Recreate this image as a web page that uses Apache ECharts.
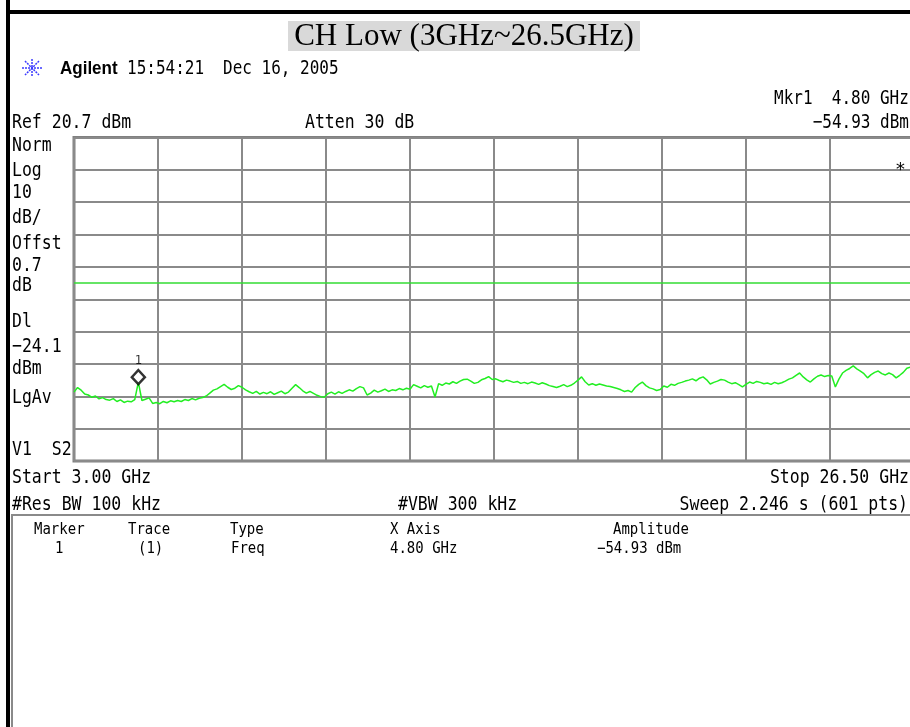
<!DOCTYPE html>
<html><head><meta charset="utf-8">
<script src="https://cdn.jsdelivr.net/npm/echarts@6/dist/echarts.min.js"></script>
<style>html,body{margin:0;padding:0;background:#fff}#c{width:910px;height:727px}</style>
</head><body><div id="c"></div>
<script>
// ---- instrument settings ----
const refLevelDbm = 20.7;
const bottomLevelDbm = -79.3;   // ref - 10 div * 10 dB
const startGHz = 3.0;
const stopGHz = 26.5;
const displayLineDbm = -24.1;
const markerPoint = [4.80, -54.93];

// ---- trace (frequency in GHz, level in dBm) ----
const freqGHz = [
3.0,3.1,3.2,3.3,3.4,3.5,3.6,3.7,3.8,3.9,
4.0,4.1,4.2,4.3,4.4,4.5,4.6,4.7,4.8,4.9,
5.0,5.1,5.2,5.3,5.4,5.5,5.6,5.7,5.8,5.9,
6.0,6.1,6.2,6.3,6.4,6.5,6.6,6.7,6.8,6.9,
7.0,7.1,7.2,7.3,7.4,7.5,7.6,7.7,7.8,7.9,
8.0,8.1,8.2,8.3,8.4,8.5,8.6,8.7,8.8,8.9,
9.0,9.1,9.2,9.3,9.4,9.5,9.6,9.7,9.8,9.9,
10.0,10.1,10.2,10.3,10.4,10.5,10.6,10.7,10.8,10.9,
11.0,11.1,11.2,11.3,11.4,11.5,11.6,11.7,11.8,11.9,
12.0,12.1,12.2,12.3,12.4,12.5,12.6,12.7,12.8,12.9,
13.0,13.1,13.2,13.3,13.4,13.5,13.6,13.7,13.8,13.9,
14.0,14.1,14.2,14.3,14.4,14.5,14.6,14.7,14.8,14.9,
15.0,15.1,15.2,15.3,15.4,15.5,15.6,15.7,15.8,15.9,
16.0,16.1,16.2,16.3,16.4,16.5,16.6,16.7,16.8,16.9,
17.0,17.1,17.2,17.3,17.4,17.5,17.6,17.7,17.8,17.9,
18.0,18.1,18.2,18.3,18.4,18.5,18.6,18.7,18.8,18.9,
19.0,19.1,19.2,19.3,19.4,19.5,19.6,19.7,19.8,19.9,
20.0,20.1,20.2,20.3,20.4,20.5,20.6,20.7,20.8,20.9,
21.0,21.1,21.2,21.3,21.4,21.5,21.6,21.7,21.8,21.9,
22.0,22.1,22.2,22.3,22.4,22.5,22.6,22.7,22.8,22.9,
23.0,23.1,23.2,23.3,23.4,23.5,23.6,23.7,23.8,23.9,
24.0,24.1,24.2,24.3,24.4,24.5,24.6,24.7,24.8,24.9,
25.0,25.1,25.2,25.3,25.4,25.5,25.6,25.7,25.8,25.9,
26.0,26.1,26.2,26.3,26.4,26.5
];
const levelDbm = [
-58.0,-56.6,-57.4,-58.6,-58.9,-59.6,-59.2,-60.1,-59.7,-60.3,
-60.5,-60.0,-60.9,-60.4,-61.2,-60.8,-61.0,-60.3,-54.9,-60.6,
-60.2,-59.8,-61.5,-61.2,-61.6,-60.9,-61.3,-60.7,-61.0,-60.6,
-60.9,-60.3,-60.6,-60.0,-60.4,-59.9,-59.7,-59.2,-58.3,-57.4,
-57.0,-56.3,-55.6,-56.5,-57.2,-56.8,-56.0,-56.5,-57.3,-57.9,
-58.4,-57.8,-58.6,-58.1,-58.5,-57.9,-58.7,-58.2,-57.7,-58.5,
-58.0,-56.8,-55.7,-56.6,-57.6,-58.3,-57.8,-58.4,-59.0,-59.4,
-59.6,-58.5,-58.0,-58.6,-57.9,-58.4,-57.8,-57.3,-57.7,-56.9,
-56.3,-56.7,-58.9,-58.3,-57.4,-58.0,-57.6,-57.1,-57.8,-57.3,
-57.5,-56.9,-57.3,-56.8,-57.1,-55.7,-56.2,-56.7,-56.0,-56.5,
-56.1,-59.5,-55.4,-55.9,-55.2,-55.5,-54.8,-55.3,-54.6,-54.1,
-54.0,-54.6,-55.3,-55.0,-54.2,-53.8,-53.2,-54.1,-53.9,-54.4,
-54.8,-54.3,-54.6,-55.0,-54.7,-55.3,-55.0,-55.4,-54.9,-55.2,
-55.6,-55.1,-55.5,-56.0,-56.3,-56.6,-56.2,-55.7,-56.3,-55.9,
-55.2,-54.3,-53.3,-54.8,-55.8,-55.4,-55.9,-55.5,-55.8,-56.1,
-56.3,-56.6,-56.9,-57.3,-57.8,-57.5,-58.0,-56.6,-55.6,-54.9,
-56.0,-56.7,-57.0,-57.5,-57.2,-56.1,-56.5,-55.6,-55.9,-55.3,
-55.0,-54.6,-54.3,-53.9,-54.5,-53.7,-53.3,-54.2,-55.5,-55.0,
-54.6,-54.1,-54.3,-54.9,-55.4,-55.1,-55.7,-56.4,-55.6,-54.9,
-55.3,-54.7,-55.0,-55.4,-55.2,-55.6,-55.0,-55.4,-55.1,-54.6,
-54.0,-53.6,-52.8,-52.1,-53.3,-54.2,-54.9,-53.9,-53.1,-52.7,
-53.2,-52.9,-53.0,-56.4,-54.0,-52.1,-51.3,-50.7,-49.9,-50.8,
-51.5,-52.3,-53.6,-52.6,-51.9,-51.5,-52.3,-52.7,-52.1,-52.6,
-53.6,-52.8,-51.9,-50.6,-50.3,-49.9
];

// ---- screen annotation texts ----
const leftLabels = [
  ['Norm',146],['Log',171],['10',193],['dB/',218],['Offst',244],['0.7',266],
  ['dB',286],['Dl',322],['\u221224.1',347],['dBm',369],['LgAv',398],['V1  S2',450]
];
const tableHeaders = [['Marker',34],['Trace',128],['Type',230],['X Axis',390],['Amplitude',613]];
const tableValues = [['1',55],['(1)',138],['Freq',231],['4.80 GHz',390],['\u221254.93 dBm',597]];

const chart = echarts.init(document.getElementById('c'), null, {renderer:'canvas'});
const MONO = '"DejaVu Sans Mono", "Liberation Mono", monospace';

function t(x, y, text, o) {
  o = o || {};
  return {
    type:'text', x:x, y:y, scaleY:o.sy || 1.2, z:10,
    style:{ x:0, y:0, text:text, fill:o.color || '#000',
      font:(o.weight||'normal') + ' ' + (o.size||16) + 'px ' + (o.family||MONO),
      textAlign:o.align||'left', textVerticalAlign:'middle' }
  };
}

const graphics = [
  {type:'rect', shape:{x:6,y:0,width:4,height:727}, style:{fill:'#000'}, z:20},
  {type:'rect', shape:{x:6,y:10,width:904,height:4}, style:{fill:'#000'}, z:20},
  {type:'rect', shape:{x:288,y:21,width:352,height:30}, style:{fill:'#d9d9d9'}, z:5},
  t(464, 37, 'CH Low (3GHz~26.5GHz)', {family:'"Liberation Serif", "Times New Roman", serif', size:31, align:'center', sy:1}),
  // agilent burst icon
  {type:'line', shape:{x1:22,y1:68,x2:42,y2:68}, style:{stroke:'#3b3bff', lineWidth:1.5, lineDash:[2,1]}},
  {type:'line', shape:{x1:32,y1:59,x2:32,y2:77}, style:{stroke:'#3b3bff', lineWidth:1.5, lineDash:[2,1]}},
  {type:'line', shape:{x1:25,y1:61,x2:39,y2:75}, style:{stroke:'#3b3bff', lineWidth:1.5, lineDash:[2,1]}},
  {type:'line', shape:{x1:39,y1:61,x2:25,y2:75}, style:{stroke:'#3b3bff', lineWidth:1.5, lineDash:[2,1]}},
  t(60, 69, 'Agilent', {family:'"Liberation Sans", Arial, sans-serif', weight:'bold', size:17, sy:1.05}),
  t(127, 69, '15:54:21', {size:16}),
  t(223, 69, 'Dec 16, 2005', {size:16}),
  t(774, 99, 'Mkr1  4.80 GHz', {size:16}),
  t(909, 123, '\u221254.93 dBm', {size:16, align:'right'}),
  t(12, 123, 'Ref 20.7 dBm', {size:16.5}),
  t(305, 123, 'Atten 30 dB', {size:16.5}),
  t(895, 170, '*', {size:18, sy:1}),
  t(12, 478, 'Start 3.00 GHz', {size:16.5}),
  t(909, 478, 'Stop 26.50 GHz', {size:16.5, align:'right'}),
  t(12, 505, '#Res BW 100 kHz', {size:16.5}),
  t(398, 505, '#VBW 300 kHz', {size:16.5}),
  t(908, 505, 'Sweep 2.246 s (601 pts)', {size:16.5, align:'right'}),
  {type:'rect', shape:{x:11,y:514,width:899,height:2}, style:{fill:'#8a8a8a'}},
  {type:'rect', shape:{x:11,y:514,width:2,height:213}, style:{fill:'#8a8a8a'}}
];
leftLabels.forEach(function(l){ graphics.push(t(12, l[1], l[0], {size:16.5})); });
tableHeaders.forEach(function(h){ graphics.push(t(h[1], 530, h[0], {size:14, sy:1.1})); });
tableValues.forEach(function(v){ graphics.push(t(v[1], 549, v[0], {size:14, sy:1.1})); });

const gridLine = {show:true, lineStyle:{color:'#8a8a8a', width:2}};
chart.setOption({
  animation:false,
  backgroundColor:'#fff',
  grid:{left:74, top:137.5, width:840, height:323.5, show:true, borderColor:'#808080', borderWidth:3,
        containLabel:false, outerBoundsMode:'none'},
  xAxis:[
    {type:'value', min:0, max:10, interval:1, axisLabel:{show:false}, axisTick:{show:false}, axisLine:{show:false}, splitLine:gridLine},
    {type:'value', min:startGHz, max:stopGHz, show:false}
  ],
  yAxis:[
    {type:'value', min:0, max:10, interval:1, axisLabel:{show:false}, axisTick:{show:false}, axisLine:{show:false}, splitLine:gridLine},
    {type:'value', min:bottomLevelDbm, max:refLevelDbm, show:false}
  ],
  series:[
    {type:'line', xAxisIndex:1, yAxisIndex:1, symbol:'none', z:4,
     data:freqGHz.map(function(f,i){ return [f, levelDbm[i]]; }),
     lineStyle:{color:'#22ee22', width:1.5},
     markLine:{silent:true, symbol:['none','none'], label:{show:false},
       lineStyle:{color:'#33dd33', width:1.5, type:'solid'},
       data:[{yAxis:displayLineDbm}]}},
    {type:'scatter', xAxisIndex:1, yAxisIndex:1, z:6,
     data:[markerPoint], symbol:'diamond', symbolSize:[13,14], symbolOffset:[0,-5],
     itemStyle:{color:'#fff', borderColor:'#000', borderWidth:2.5},
     label:{show:true, formatter:'1', position:'top', distance:2, color:'#000', fontSize:12, fontFamily:MONO}}
  ],
  graphic:graphics
});
</script></body></html>
